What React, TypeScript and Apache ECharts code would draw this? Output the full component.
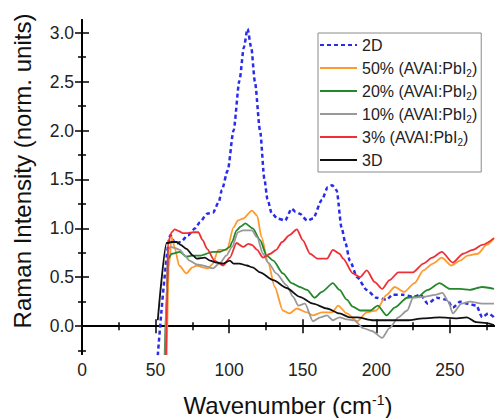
import React, { useEffect, useRef } from 'react';
import * as echarts from 'echarts';

const FONT = '"Liberation Sans", Arial, Helvetica, sans-serif';

const xTicks = [0, 50, 100, 150, 200, 250];
const xMinorTicks = [25, 75, 125, 175, 225, 275];
const yTicks = [0, 0.5, 1.0, 1.5, 2.0, 2.5, 3.0];
const yMinorTicks = [-0.25, 0.25, 0.75, 1.25, 1.75, 2.25, 2.75];

const seriesNames = ['2D', '50% (AVAI:PbI2)', '20% (AVAI:PbI2)', '10% (AVAI:PbI2)', '3% (AVAI:PbI2)', '3D'];

const x2D = [51.5, 60, 63.5, 67, 72, 77, 80, 85, 89, 93, 95, 99, 103, 107, 110, 112.5, 115, 117.5, 121, 124, 126, 129, 133, 138, 142.5, 145, 148, 153, 157, 163, 167, 170, 173, 176.5, 179, 182, 187, 193.5, 200, 207, 211, 218, 225, 230, 235, 241, 248, 252, 257, 262, 268, 272, 276, 280];
const y2D = [-0.3, 0.93, 0.84, 0.86, 0.93, 1.0, 1.06, 1.15, 1.16, 1.27, 1.39, 1.59, 2.0, 2.51, 2.85, 3.04, 2.85, 2.5, 2.0, 1.5, 1.3, 1.15, 1.10, 1.08, 1.2, 1.17, 1.15, 1.08, 1.10, 1.29, 1.42, 1.44, 1.39, 1.0, 0.85, 0.67, 0.5, 0.37, 0.29, 0.27, 0.32, 0.32, 0.30, 0.32, 0.23, 0.29, 0.27, 0.19, 0.25, 0.23, 0.21, 0.09, 0.13, 0.09];

const x50 = [57.5, 59, 61, 63, 66, 71, 75, 78, 82, 85.5, 89, 92.5, 98.5, 103, 106, 109.5, 115.5, 119, 122, 126.5, 131, 136.5, 141, 146, 153, 157, 163, 170, 174, 180, 187, 193.5, 200, 207, 212.5, 219, 226, 232, 238.5, 244.5, 251, 257, 262, 269, 275, 280];
const y50 = [-0.35, 0.6, 0.91, 0.8, 0.62, 0.54, 0.6, 0.62, 0.6, 0.59, 0.64, 0.78, 0.78, 1.01, 1.08, 1.10, 1.18, 1.13, 0.91, 0.65, 0.40, 0.16, 0.13, 0.18, 0.14, 0.11, 0.14, 0.14, 0.21, 0.13, 0.05, 0.14, 0.16, 0.32, 0.40, 0.35, 0.44, 0.57, 0.64, 0.70, 0.62, 0.67, 0.72, 0.74, 0.83, 0.90];

const x20 = [56, 57.5, 58.5, 61, 66.5, 71, 75, 80, 89, 94, 97, 100.5, 102, 105, 108, 111, 116, 121, 125.5, 130, 136.5, 142.5, 148, 153, 158, 163, 170.5, 175, 180, 184, 189, 196, 201, 207, 212.5, 221, 228, 235, 243, 250, 257, 263.5, 272, 280];
const y20 = [-0.4, 0.3, 0.69, 0.74, 0.76, 0.71, 0.72, 0.72, 0.76, 0.76, 0.78, 0.81, 0.86, 0.98, 1.02, 1.05, 1.0, 0.88, 0.72, 0.67, 0.54, 0.44, 0.40, 0.37, 0.29, 0.35, 0.44, 0.37, 0.27, 0.20, 0.16, 0.16, 0.21, 0.11, 0.19, 0.29, 0.30, 0.37, 0.44, 0.38, 0.38, 0.37, 0.40, 0.38];

const x10 = [56.5, 57.5, 58.5, 60, 63, 66.5, 70, 73, 78, 82, 89, 94, 98, 102, 106, 109.5, 115.5, 119, 123, 126.5, 132, 139, 143.5, 147, 151.5, 157, 162, 166.5, 170.5, 175, 180, 185, 191, 197, 204, 209, 215, 221, 225, 232, 240, 245, 249, 252, 258, 263.5, 272, 280];
const y10 = [-0.4, 0.4, 0.78, 0.81, 0.8, 0.78, 0.72, 0.67, 0.63, 0.62, 0.59, 0.65, 0.72, 0.81, 0.96, 0.98, 0.98, 0.91, 0.74, 0.65, 0.54, 0.42, 0.30, 0.21, 0.23, 0.05, 0.09, 0.11, 0.06, 0.09, 0.07, 0.06, -0.02, -0.05, -0.12, -0.02, 0.09, 0.16, 0.29, 0.30, 0.32, 0.34, 0.25, 0.13, 0.23, 0.25, 0.23, 0.23];

const x3 = [57, 58, 58.5, 61, 63, 66, 68.5, 72, 75.5, 79, 82, 85, 90, 96, 100.5, 105, 109.5, 113, 115.5, 119, 123, 128, 132, 136, 141, 146, 150, 155, 160, 166.5, 170.5, 175, 177.5, 184, 189, 193.5, 199, 204, 209, 215, 225, 232, 238, 244.5, 252, 259, 265.5, 272, 280];
const y3 = [-0.4, 0.4, 0.86, 0.96, 0.99, 0.97, 0.95, 0.95, 0.96, 0.96, 0.88, 0.79, 0.67, 0.62, 0.70, 0.85, 0.81, 0.84, 0.83, 0.78, 0.70, 0.74, 0.78, 0.86, 0.93, 0.99, 0.88, 0.74, 0.69, 0.69, 0.78, 0.74, 0.69, 0.54, 0.50, 0.57, 0.45, 0.38, 0.47, 0.55, 0.55, 0.64, 0.70, 0.76, 0.65, 0.74, 0.78, 0.83, 0.90];

const x3D = [51.5, 57.5, 61, 64.5, 67, 71, 75.5, 78, 83.5, 87, 91.5, 96, 100.5, 103, 107, 112, 116, 121, 130, 139, 148, 157, 166.5, 175, 182, 187, 198, 209, 221, 232, 243, 255, 261.5, 268, 275, 280];
const y3D = [0.06, 0.85, 0.86, 0.86, 0.83, 0.79, 0.72, 0.69, 0.70, 0.67, 0.65, 0.64, 0.67, 0.64, 0.64, 0.62, 0.60, 0.55, 0.47, 0.39, 0.30, 0.23, 0.18, 0.13, 0.09, 0.09, 0.06, 0.06, 0.06, 0.08, 0.09, 0.08, 0.09, 0.04, 0.03, 0.01];

const seriesX = [x2D, x50, x20, x10, x3, x3D];
const seriesY = [y2D, y50, y20, y10, y3, y3D];
const seriesColors = ['#2b2bec', '#ff9a2e', '#22882a', '#999999', '#ee3035', '#111111'];

const zip = (xs: number[], ys: number[]) => xs.map((x, i) => [x, ys[i]]);

export default function App() {
  const ref = useRef<HTMLDivElement>(null);
  useEffect(() => {
    document.body.style.margin = '0';
    const chart = echarts.init(ref.current!, undefined, { renderer: 'svg' });
    const xMin = 0, xMax = 280, yMin = -0.285, yMax = 3.13;
    const axisLine = { show: true, lineStyle: { color: '#000', width: 2 } };
    const mkX = (pos: string, ticks: number[], len: number, labels: boolean, line: boolean) => ({
      type: 'value', position: pos, min: xMin, max: xMax,
      axisLine: line ? axisLine : { show: false },
      axisTick: { show: true, inside: true, length: len, customValues: ticks, lineStyle: { color: '#000', width: 1.5 } },
      axisLabel: labels ? { show: true, customValues: ticks, fontSize: 17.5, color: '#222', fontFamily: FONT, margin: 7 } : { show: false },
      splitLine: { show: false },
    });
    const mkY = (pos: string, ticks: number[], len: number, labels: boolean, line: boolean) => ({
      type: 'value', position: pos, min: yMin, max: yMax,
      axisLine: line ? axisLine : { show: false },
      axisTick: { show: true, inside: true, length: len, customValues: ticks, lineStyle: { color: '#000', width: 1.5 } },
      axisLabel: labels ? { show: true, customValues: ticks, fontSize: 17.5, color: '#222', fontFamily: FONT, margin: 8, formatter: (v: number) => v.toFixed(1) } : { show: false },
      splitLine: { show: false },
    });
    chart.setOption({
      animation: false,
      backgroundColor: '#fff',
      grid: { left: 82, right: 3, top: 20, bottom: 64, containLabel: false },
      xAxis: [
        mkX('bottom', xTicks, 7, true, true),
        mkX('bottom', xMinorTicks, 4, false, false),
        mkX('top', xTicks, 7, false, true),
        mkX('top', xMinorTicks, 4, false, false),
      ],
      yAxis: [
        mkY('left', yTicks, 7, true, true),
        mkY('left', yMinorTicks, 4, false, false),
        mkY('right', yTicks, 7, false, true),
        mkY('right', yMinorTicks, 4, false, false),
      ],
      legend: {
        orient: 'vertical', left: 318, top: 33,
        data: seriesNames,
        padding: [2, 4, 2, 1],
        itemGap: 3,
        itemWidth: 37, itemHeight: 10,
        itemStyle: { opacity: 0, borderWidth: 0 },
        borderColor: '#8a8a8a', borderWidth: 1, backgroundColor: '#fff',
        formatter: (name: string) => name.replace('PbI2', 'PbI{sub|2}'),
        textStyle: {
          fontSize: 16, color: '#222', fontFamily: FONT, lineHeight: 20,
          rich: { sub: { fontSize: 10, verticalAlign: 'bottom', fontFamily: FONT, color: '#222' } },
        },
      },
      series: seriesNames.map((name, i) => ({
        name, type: 'line', xAxisIndex: 0, yAxisIndex: 0,
        data: zip(seriesX[i], seriesY[i]),
        showSymbol: false, symbol: 'none',
        smooth: 0.25, smoothMonotone: 'x',
        clip: true,
        lineStyle: i === 0
          ? { color: seriesColors[i], width: 2.5, type: [4, 3] }
          : { color: seriesColors[i], width: 1.8 },
        itemStyle: { color: seriesColors[i] },
      })),
      graphic: [
        {
          type: 'text', x: 288, y: 405,
          style: {
            text: 'Wavenumber (cm{sup|-1})',
            fontSize: 24, fontFamily: FONT, fill: '#111',
            align: 'center', verticalAlign: 'middle',
            rich: { sup: { fontSize: 14, verticalAlign: 'top', fontFamily: FONT, fill: '#111' } },
          },
        },
        {
          type: 'text', x: 22, y: 171, rotation: Math.PI / 2,
          style: {
            text: 'Raman Intensity (norm. units)',
            fontSize: 24, fontFamily: FONT, fill: '#111',
            align: 'center', verticalAlign: 'middle',
          },
        },
      ],
    });
    return () => chart.dispose();
  }, []);
  return <div ref={ref} style={{ width: 497, height: 418 }} />;
}
